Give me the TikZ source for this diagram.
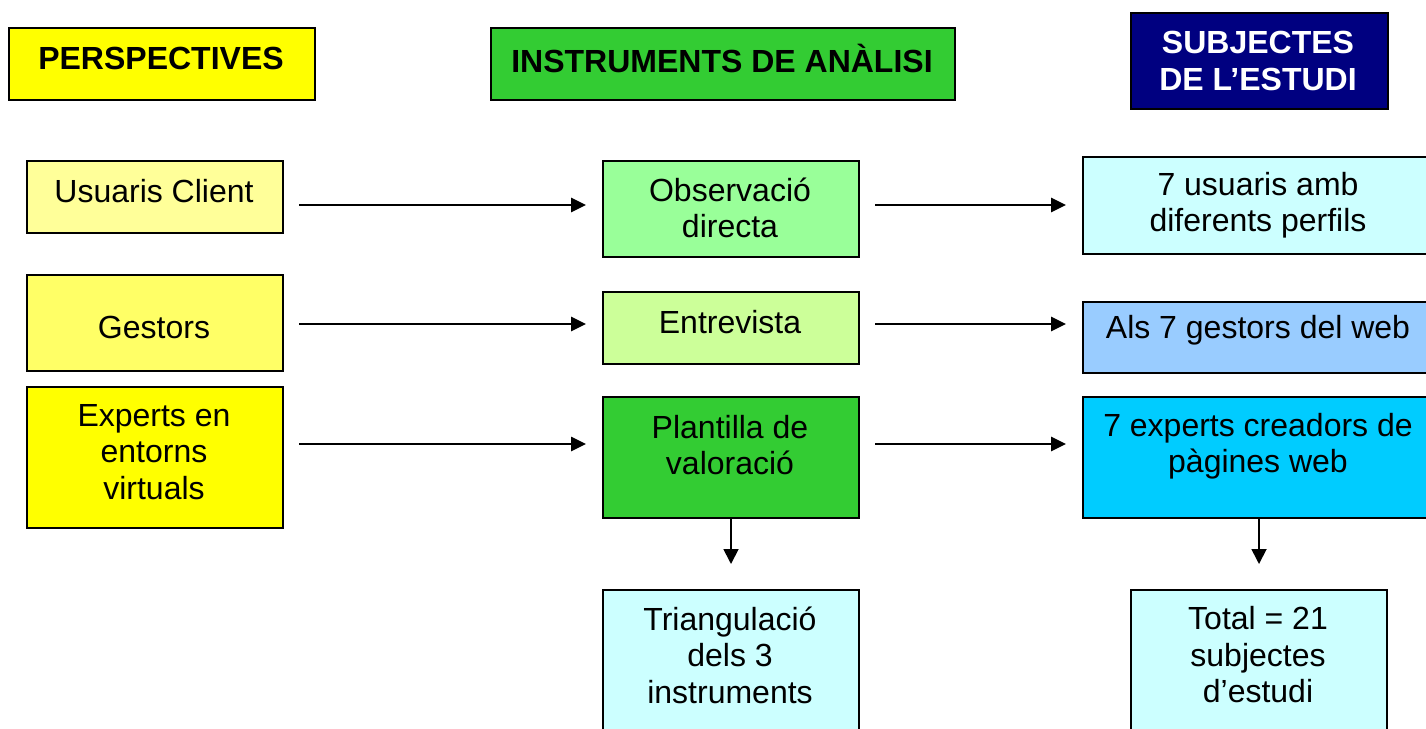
\documentclass[tikz,border=0pt]{standalone}
\usepackage{fontspec}
\setmainfont{Liberation Sans}
\usetikzlibrary{arrows.meta}
\definecolor{cyel}{HTML}{FFFF00}
\definecolor{cyelA}{HTML}{FFFF99}
\definecolor{cyelB}{HTML}{FFFF66}
\definecolor{cgreen}{HTML}{33CC33}
\definecolor{cgreenA}{HTML}{99FF99}
\definecolor{cgreenB}{HTML}{CCFF99}
\definecolor{ccyanA}{HTML}{CCFFFF}
\definecolor{cblueA}{HTML}{99CCFF}
\definecolor{cblueB}{HTML}{00CCFF}
\definecolor{cnavy}{HTML}{000080}
\begin{document}
\begin{tikzpicture}[x=1pt,y=1pt,
  box/.style={draw=black, line width=2pt, inner sep=0pt, anchor=north west},
  txt/.style={font=\fontsize{32}{36.5}\selectfont, align=center, inner sep=0pt},
  htxt/.style={font=\fontsize{32}{37}\selectfont\bfseries, align=center, inner sep=0pt},
  harr/.style={line width=2.6pt, -{Triangle[length=15pt,width=14pt]}, shorten <=15pt, shorten >=16pt},
  varr/.style={line width=1.8pt, -{Triangle[length=15pt,width=15pt]}, shorten >=25pt}]
\useasboundingbox (0,0) rectangle (1426,-728);
\clip (0,0) rectangle (1426,-728);
% header boxes
\node[box, fill=cyel, minimum width=306pt, minimum height=72pt] (p) at (8,-27) {};
\node[htxt] (pt) at (161,-58) {PERSPECTIVES};
\node[box, fill=cgreen, minimum width=464pt, minimum height=72pt] (ins) at (490,-27) {};
\node[htxt] (inst) at (722,-58) {INSTRUMENTS DE ANÀLISI};
\node[box, fill=cnavy, minimum width=257pt, minimum height=96pt] (sub) at (1130,-12) {};
\node[htxt, text=white] (subt) at (1258,-61) {SUBJECTES\\DE L’ESTUDI};
% left column
\node[box, fill=cyelA, minimum width=256pt, minimum height=72pt] (u) at (26,-160) {};
\node[txt] (ut) at (154,-191) {Usuaris Client};
\node[box, fill=cyelB, minimum width=256pt, minimum height=96pt] (g) at (26,-274) {};
\node[txt] (gt) at (154,-327) {Gestors};
\node[box, fill=cyel, minimum width=256pt, minimum height=141pt] (e) at (26,-386) {};
\node[txt] (et) at (154,-452) {Experts en\\entorns\\virtuals};
% middle column
\node[box, fill=cgreenA, minimum width=256pt, minimum height=96pt] (o) at (602,-160) {};
\node[txt] (ot) at (730,-208) {Observació\\directa};
\node[box, fill=cgreenB, minimum width=256pt, minimum height=72pt] (en) at (602,-291) {};
\node[txt] (ent) at (730,-322) {Entrevista};
\node[box, fill=cgreen, minimum width=256pt, minimum height=121pt] (pl) at (602,-396) {};
\node[txt] (plt) at (730,-445) {Plantilla de\\valoració};
\node[box, fill=ccyanA, minimum width=256pt, minimum height=170pt] (tr) at (602,-589) {};
\node[txt] (trt) at (730,-655) {Triangulació\\dels 3\\instruments};
% right column
\node[box, fill=ccyanA, minimum width=360pt, minimum height=97pt] (su) at (1082,-156) {};
\node[txt] (sut) at (1258,-205) {7 usuaris amb\\diferents perfils};
\node[box, fill=cblueA, minimum width=360pt, minimum height=71pt] (sg) at (1082,-301) {};
\node[txt] (sgt) at (1258,-330) {Als 7 gestors del web};
\node[box, fill=cblueB, minimum width=360pt, minimum height=121pt] (se) at (1082,-396) {};
\node[txt] (set) at (1258,-446) {7 experts creadors de\\pàgines web};
\node[box, fill=ccyanA, minimum width=256pt, minimum height=170pt] (tot) at (1130,-589) {};
\node[txt] (tott) at (1258,-655) {Total = 21\\subjectes\\d’estudi};
% rows
\coordinate (r1) at (0,-205);
\coordinate (r2) at (0,-324);
\coordinate (r3) at (0,-444);
\draw[harr] (u.east |- r1) -- (o.west |- r1);
\draw[harr] (o.east |- r1) -- (su.west |- r1);
\draw[harr] (g.east |- r2) -- (en.west |- r2);
\draw[harr] (en.east |- r2) -- (sg.west |- r2);
\draw[harr] (e.east |- r3) -- (pl.west |- r3);
\draw[harr] (pl.east |- r3) -- (se.west |- r3);
\draw[varr] (pl.south) -- (tr.north);
\draw[varr] (se.south -| tot.north) -- (tot.north);
\end{tikzpicture}
\end{document}
